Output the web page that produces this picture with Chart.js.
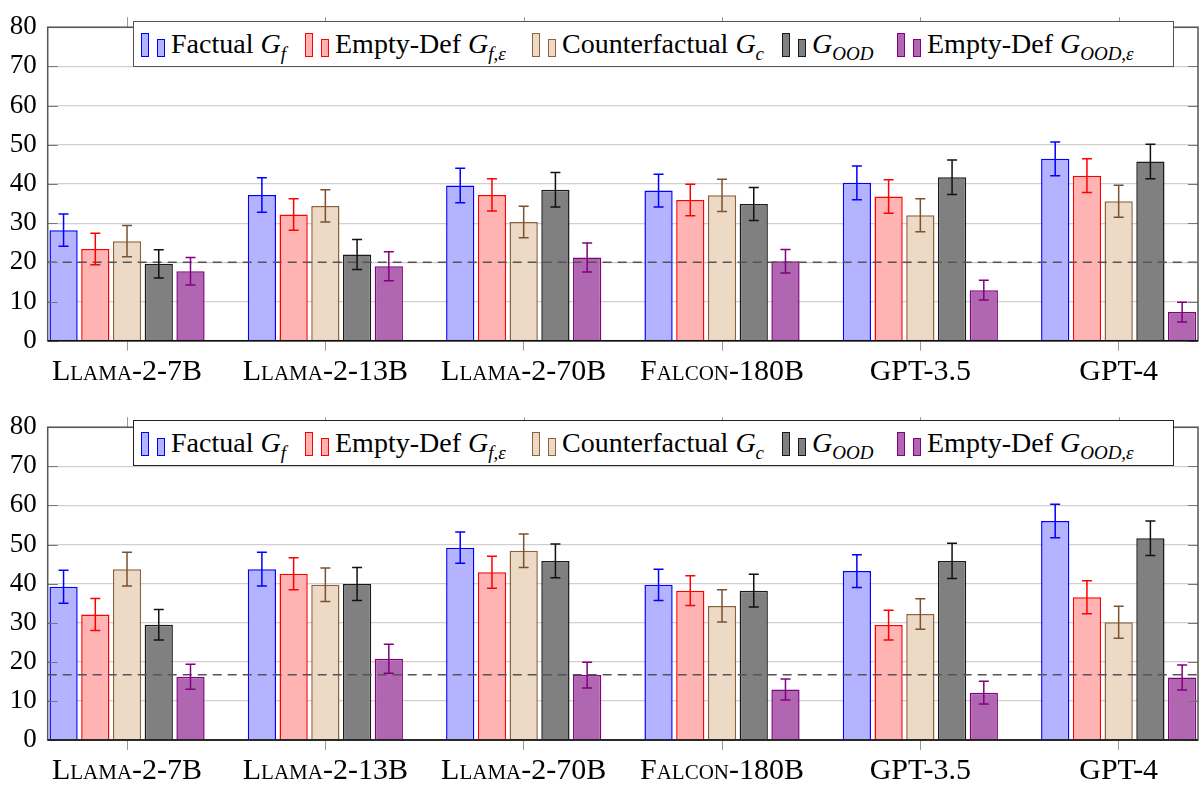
<!DOCTYPE html>
<html lang="en">
<head>
<meta charset="utf-8">
<script src="https://cdn.jsdelivr.net/npm/chart.js@4.4.1/dist/chart.umd.min.js"></script>
<style>
@font-face { font-family: "PaperSerif"; font-style: normal; src: local("Liberation Serif"), local("LiberationSerif"), local("Tinos"); }
@font-face { font-family: "PaperSerif"; font-style: italic; src: local("Liberation Serif Italic"), local("LiberationSerif-Italic"), local("Tinos Italic"); }
body { margin: 0; background: #fff; }
.panel { position: absolute; left: 0; width: 1201px; }
.legend { position: absolute; left: 133px; width: 1041px; height: 46px; box-sizing: border-box; border: 1.5px solid #555;
	background: #fff; white-space: nowrap; color: #000; font-family: "Liberation Serif", PaperSerif, serif; font-size: 28px; }
.item { position: absolute; top: 0; height: 43px; display: flex; align-items: center; }
.icons { display: flex; align-items: flex-end; height: 24px; margin-right: 6px; margin-top: 2px; }
.icons span { display: inline-block; width: 6px; box-sizing: content-box; border: 1px solid; margin-right: 8px; }
.icons span:first-child { height: 22px; }
.icons span:last-child { height: 16px; margin-right: 0; }
.s0 span { background: #b3b3ff; border-color: #0000ff; }
.s1 span { background: #ffb3b3; border-color: #ff0000; }
.s2 span { background: #ecd9c6; border-color: #8c6239; }
.s3 span { background: #808080; border-color: #1a1a1a; }
.s4 span { background: #b066b0; border-color: #800080; }
.txt i { font-style: italic; }
.txt sub { font-size: 19px; font-style: italic; vertical-align: -7px; line-height: 0; }
</style>
</head>
<body>
<div class="panel" style="top:0;height:400px">
<canvas id="top" width="1201" height="400"></canvas>
<div class="legend" style="top:21px">
<div class="item" style="left:7px"><div class="icons s0"><span></span><span></span></div><span class="txt">Factual <i>G</i><sub>f</sub></span></div>
<div class="item" style="left:171px"><div class="icons s1"><span></span><span></span></div><span class="txt">Empty-Def <i>G</i><sub>f,&epsilon;</sub></span></div>
<div class="item" style="left:398px"><div class="icons s2"><span></span><span></span></div><span class="txt">Counterfactual <i>G</i><sub>c</sub></span></div>
<div class="item" style="left:648px"><div class="icons s3"><span></span><span></span></div><span class="txt"><i>G</i><sub>OOD</sub></span></div>
<div class="item" style="left:763px"><div class="icons s4"><span></span><span></span></div><span class="txt">Empty-Def <i>G</i><sub>OOD,&epsilon;</sub></span></div>
</div>
</div>
<div class="panel" style="top:400px;height:387px">
<canvas id="bottom" width="1201" height="387"></canvas>
<div class="legend" style="top:20px;border-color:#222">
<div class="item" style="left:7px"><div class="icons s0"><span></span><span></span></div><span class="txt">Factual <i>G</i><sub>f</sub></span></div>
<div class="item" style="left:171px"><div class="icons s1"><span></span><span></span></div><span class="txt">Empty-Def <i>G</i><sub>f,&epsilon;</sub></span></div>
<div class="item" style="left:398px"><div class="icons s2"><span></span><span></span></div><span class="txt">Counterfactual <i>G</i><sub>c</sub></span></div>
<div class="item" style="left:648px"><div class="icons s3"><span></span><span></span></div><span class="txt"><i>G</i><sub>OOD</sub></span></div>
<div class="item" style="left:763px"><div class="icons s4"><span></span><span></span></div><span class="txt">Empty-Def <i>G</i><sub>OOD,&epsilon;</sub></span></div>
</div>
</div>
<script>
const models = ["Llama-2-7B", "Llama-2-13B", "Llama-2-70B", "Falcon-180B", "GPT-3.5", "GPT-4"];
const seriesNames = ["Factual G_f", "Empty-Def G_f,eps", "Counterfactual G_c", "G_OOD", "Empty-Def G_OOD,eps"];
const yTicks = [0, 10, 20, 30, 40, 50, 60, 70, 80];

// top panel
const factualTop = [28.2, 37.2, 39.6, 38.3, 40.3, 46.4];
const emptyTop = [23.4, 32.2, 37.2, 35.9, 36.8, 42.1];
const counterTop = [25.4, 34.4, 30.3, 37.1, 32.0, 35.6];
const oodTop = [19.6, 22.0, 38.5, 34.9, 41.7, 45.7];
const emptyOodTop = [17.7, 19.0, 21.2, 20.3, 12.9, 7.3];
const factualTopErr = [4.1, 4.4, 4.4, 4.2, 4.3, 4.3];
const emptyTopErr = [4.0, 4.0, 4.1, 4.0, 4.3, 4.3];
const counterTopErr = [4.0, 4.1, 4.0, 4.1, 4.2, 4.1];
const oodTopErr = [3.6, 3.8, 4.4, 4.2, 4.4, 4.4];
const emptyOodTopErr = [3.5, 3.7, 3.7, 3.0, 2.5, 2.5];
const chanceTop = 20;

// bottom panel
const factualBottom = [39.2, 43.7, 49.2, 39.7, 43.2, 56.0];
const emptyBottom = [32.1, 42.5, 42.9, 38.2, 29.4, 36.5];
const counterBottom = [43.7, 39.7, 48.4, 34.3, 32.2, 30.1];
const oodBottom = [29.5, 39.9, 45.8, 38.2, 45.8, 51.6];
const emptyOodBottom = [16.2, 20.8, 16.6, 12.9, 12.1, 16.0];
const factualBottomErr = [4.2, 4.3, 4.0, 4.0, 4.2, 4.3];
const emptyBottomErr = [4.1, 4.1, 4.1, 3.8, 3.8, 4.2];
const counterBottomErr = [4.3, 4.3, 4.3, 4.1, 3.9, 4.1];
const oodBottomErr = [3.9, 4.2, 4.3, 4.2, 4.5, 4.4];
const emptyOodBottomErr = [3.2, 3.7, 3.3, 2.7, 2.9, 3.2];
const chanceBottom = 16.67;

const fills = ["#b3b3ff", "#ffb3b3", "#ecd9c6", "#808080", "#b066b0"];
const lines = ["#0000ff", "#ff0000", "#8c6239", "#1a1a1a", "#800080"];
const errColors = ["#0000ff", "#ff0000", "#7a5230", "#111111", "#800080"];
const serif = "'Liberation Serif', PaperSerif, serif";

// frame, pgfplots-style ticks, chance line and error bars
const pgfPlugin = {
	id: "pgf",
	afterDatasetsDraw(chart, args, opts) {
		const { ctx, chartArea: a, scales } = chart;
		const x = scales.x, y = scales.y;
		ctx.save();
		// dashed chance line
		ctx.setLineDash([9, 6]);
		ctx.strokeStyle = "#555";
		ctx.lineWidth = 1.5;
		const cy = y.getPixelForValue(opts.chance);
		ctx.beginPath();
		ctx.moveTo(a.left, cy);
		ctx.lineTo(a.right, cy);
		ctx.stroke();
		ctx.setLineDash([]);
		// error bars
		chart.data.datasets.forEach((ds, i) => {
			const meta = chart.getDatasetMeta(i);
			ctx.strokeStyle = errColors[i];
			ctx.lineWidth = 1.5;
			meta.data.forEach((bar, j) => {
				const v = ds.data[j];
				const e = ds.errors[j];
				const y1 = y.getPixelForValue(v + e);
				const y2 = y.getPixelForValue(v - e);
				ctx.beginPath();
				ctx.moveTo(bar.x, y1);
				ctx.lineTo(bar.x, y2);
				ctx.moveTo(bar.x - 5, y1);
				ctx.lineTo(bar.x + 5, y1);
				ctx.moveTo(bar.x - 5, y2);
				ctx.lineTo(bar.x + 5, y2);
				ctx.stroke();
			});
		});
		// ticks: y inward on both sides, x outward on top
		ctx.strokeStyle = "#777";
		ctx.lineWidth = 1;
		for (let t of yTicks) {
			const py = Math.round(y.getPixelForValue(t)) + 0.5;
			ctx.beginPath();
			ctx.moveTo(a.left, py);
			ctx.lineTo(a.left + 10, py);
			ctx.moveTo(a.right, py);
			ctx.lineTo(a.right - 10, py);
			ctx.stroke();
		}
		ctx.strokeStyle = "#999";
		models.forEach((m, i) => {
			const px = Math.round(x.getPixelForValue(i)) + 0.5;
			ctx.beginPath();
			ctx.moveTo(px, a.top);
			ctx.lineTo(px, a.top - 10);
			ctx.stroke();
		});
		// frame
		ctx.strokeStyle = "#555";
		ctx.lineWidth = 1.5;
		ctx.strokeRect(a.left, a.top, a.right - a.left, a.bottom - a.top);
		ctx.strokeStyle = "#111";
		ctx.beginPath();
		ctx.moveTo(a.left, a.bottom);
		ctx.lineTo(a.right, a.bottom);
		ctx.stroke();
		ctx.restore();
	},
};

function makeChart(canvasId, series, errors, chance, axisHeight) {
	const datasets = series.map((values, i) => ({
		label: seriesNames[i],
		data: values,
		errors: errors[i],
		backgroundColor: fills[i],
		borderColor: lines[i],
		borderWidth: 1.5,
		categoryPercentage: 0.8,
		barPercentage: 0.89,
	}));
	return new Chart(document.getElementById(canvasId), {
		type: "bar",
		data: { labels: models.map((m, i) => i), datasets: datasets },
		options: {
			responsive: false,
			animation: false,
			devicePixelRatio: 1,
			layout: { padding: { top: 13.7, right: 3, left: 0, bottom: 0 } },
			plugins: {
				legend: { display: false },
				tooltip: { enabled: false },
				pgf: { chance: chance },
			},
			scales: {
				x: {
					type: "linear",
					min: -0.4,
					max: 5.4,
					offset: false,
					afterBuildTicks: (scale) => {
						scale.ticks = models.map((m, i) => ({ value: i }));
					},
					afterFit: (scale) => {
						scale.height = axisHeight;
					},
					grid: { offset: false, drawOnChartArea: false, drawTicks: true, tickLength: 10, color: "#999" },
					border: { display: false },
					ticks: {
						autoSkip: false,
						maxRotation: 0,
						padding: 3,
						color: "#000",
						font: { family: serif, size: 30, weight: "small-caps" },
						callback: (v) => models[v],
					},
				},
				y: {
					min: 0,
					max: 80,
					afterBuildTicks: (scale) => {
						scale.ticks = yTicks.map((v) => ({ value: v }));
					},
					afterFit: (scale) => {
						scale.width = 47.7;
					},
					grid: { color: "#d0d0d0", lineWidth: 1.2, drawTicks: false },
					border: { display: false },
					ticks: {
						padding: 11,
						color: "#000",
						font: { family: serif, size: 27 },
					},
				},
			},
		},
		plugins: [pgfPlugin],
	});
}

const charts = [
	makeChart("top",
		[factualTop, emptyTop, counterTop, oodTop, emptyOodTop],
		[factualTopErr, emptyTopErr, counterTopErr, oodTopErr, emptyOodTopErr],
		chanceTop, 59.3),
	makeChart("bottom",
		[factualBottom, emptyBottom, counterBottom, oodBottom, emptyOodBottom],
		[factualBottomErr, emptyBottomErr, counterBottomErr, oodBottomErr, emptyOodBottomErr],
		chanceBottom, 47),
];
// redraw once the serif face is surely loaded
Promise.all([document.fonts.load("30px 'Liberation Serif'"), document.fonts.load("30px PaperSerif")]).then(() => {
	for (let c of charts) c.update();
});
</script>
</body>
</html>
